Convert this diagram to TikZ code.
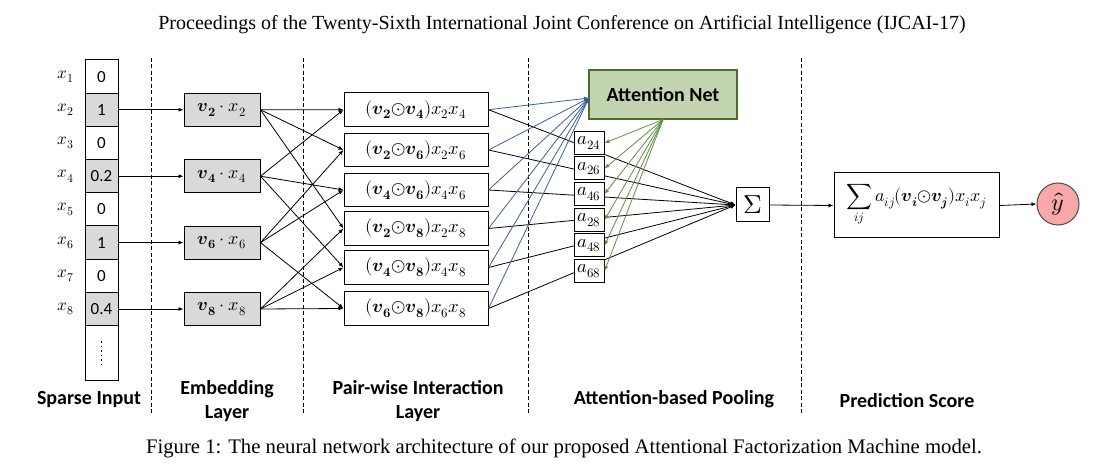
\documentclass[tikz,border=0pt]{standalone}
\usepackage{fontspec}
\usepackage{unicode-math}
\setmainfont{Liberation Serif}
\setmathfont{Latin Modern Math}
\newfontfamily\calib{Carlito}
\usetikzlibrary{arrows.meta}
\definecolor{boxgray}{HTML}{D9D9D9}
\definecolor{attfill}{HTML}{C3D5B0}
\definecolor{attdraw}{HTML}{4F6B2F}
\definecolor{blueline}{HTML}{3D5E9E}
\definecolor{greenline}{HTML}{5F8F3F}
\definecolor{yfill}{HTML}{F8A8A8}
\newcommand{\bv}[1]{\symbfit{v}_{\symbf{#1}}}
\newcommand{\od}{{\odot}}
\begin{document}
\begin{tikzpicture}[x=1pt,y=-1pt,
  cell/.style={draw, line width=1pt, minimum width=33pt, minimum height=33.2pt, inner sep=0pt, font=\calib\fontsize{17}{17}\selectfont},
  grayc/.style={cell, fill=boxgray},
  emb/.style={draw, line width=1pt, fill=boxgray, minimum width=76pt, minimum height=33pt, inner sep=0pt, font=\fontsize{18}{18}\selectfont},
  pair/.style={draw, line width=1pt, minimum width=144pt, minimum height=33.5pt, inner sep=0pt, font=\fontsize{18.5}{18.5}\selectfont},
  abox/.style={draw, line width=1pt, fill=white, minimum width=30pt, minimum height=23pt, inner sep=0pt, font=\fontsize{18.5}{18.5}\selectfont},
  xlab/.style={font=\fontsize{17}{17}\selectfont},
  conn/.style={line width=0.8pt, -{Latex[length=5pt,width=4pt]}},
  bconn/.style={conn, draw=blueline},
  gconn/.style={conn, draw=greenline},
  sep/.style={line width=0.7pt, dash pattern=on 4pt off 2.5pt},
  lbl/.style={font=\calib\bfseries\fontsize{20}{24}\selectfont, align=center}
]
\useasboundingbox (0,0) rectangle (1101,473);
% separators
\foreach \xx in {151,303,528,801} \draw[sep] (\xx,58) -- (\xx,415);
% input column
\node[cell]  (in1) at (101.5,76.6)  {0};
\node[grayc] (in2) at (101.5,109.8) {1};
\node[cell]  (in3) at (101.5,143.0) {0};
\node[grayc] (in4) at (101.5,176.2) {0.2};
\node[cell]  (in5) at (101.5,209.4) {0};
\node[grayc] (in6) at (101.5,242.6) {1};
\node[cell]  (in7) at (101.5,275.8) {0};
\node[grayc] (in8) at (101.5,309.0) {0.4};
\node[cell, minimum height=55pt] (indots) at (101.5,353.1) {};
\draw[line width=1.6pt, dash pattern=on 1.6pt off 2.9pt] ([yshift=12pt]indots.center) -- ([yshift=-13pt]indots.center);
\foreach \i/\yy in {1/76.6,2/109.8,3/143.0,4/176.2,5/209.4,6/242.6,7/275.8,8/309.0}
  \node[xlab] (xl\i) at (66,\yy) {$x_{\i}$};
% embedding
\node[emb] (e2) at (222,109.8) {$\bv{2}\cdot x_2$};
\node[emb] (e4) at (222,176.2) {$\bv{4}\cdot x_4$};
\node[emb] (e6) at (222,242.6) {$\bv{6}\cdot x_6$};
\node[emb] (e8) at (222,309.0) {$\bv{8}\cdot x_8$};
\foreach \i in {2,4,6,8} \draw[conn] (in\i.east) -- (e\i.west);
% pairwise
\node[pair] (p24) at (416,109.7) {$(\bv{2}\od\bv{4})x_2x_4$};
\node[pair] (p26) at (416,150.0) {$(\bv{2}\od\bv{6})x_2x_6$};
\node[pair] (p46) at (416,190.0) {$(\bv{4}\od\bv{6})x_4x_6$};
\node[pair] (p28) at (416,228.5) {$(\bv{2}\od\bv{8})x_2x_8$};
\node[pair] (p48) at (416,267.5) {$(\bv{4}\od\bv{8})x_4x_8$};
\node[pair] (p68) at (416,308.5) {$(\bv{6}\od\bv{8})x_6x_8$};
\foreach \e/\p in {2/24,2/26,2/28,4/24,4/46,4/48,6/26,6/46,6/68,8/28,8/48,8/68}
  \draw[conn] (e\e.east) -- (p\p.west);
% attention net
\node[draw=attdraw, line width=1.2pt, fill=attfill, minimum width=148pt, minimum height=49pt, font=\calib\bfseries\fontsize{20}{20}\selectfont] (att) at (663,94.5) {Attention Net};
\coordinate (attin) at (589,98);
% sum
\node[draw, line width=1pt, minimum width=33pt, minimum height=34pt, inner sep=0pt, font=\fontsize{26}{26}\selectfont] (sig) at (752.5,205) {$\Sigma$};
\foreach \p in {24,26,46,28,48,68} {
  \draw[bconn] (p\p.east) -- (attin);
  \draw[conn] (p\p.east) -- (sig.west);
}
% attention weights
\node[abox] (a24) at (589,143.0) {$a_{24}$};
\node[abox] (a26) at (589,168.5) {$a_{26}$};
\node[abox] (a46) at (589,194.0) {$a_{46}$};
\node[abox] (a28) at (589,220.0) {$a_{28}$};
\node[abox] (a48) at (589,245.5) {$a_{48}$};
\node[abox] (a68) at (589,271.0) {$a_{68}$};
\foreach \p in {24,26,46,28,48,68} \draw[gconn] (att.south) -- (a\p.east);
% prediction
\node[draw, line width=1pt, minimum width=165pt, minimum height=65pt, inner sep=0pt, font=\fontsize{18}{18}\selectfont] (pred) at (916.5,205.5) {$\displaystyle\sum_{ij} a_{ij}(\symbfit{v}_{\symbfit{i}}\od\symbfit{v}_{\symbfit{j}})x_ix_j$};
\node[circle, draw=black!70, line width=1pt, fill=yfill, minimum size=42pt, inner sep=0pt, font=\fontsize{24}{24}\selectfont] (yhat) at (1058,204) {$\hat{y}$};
\draw[conn] (sig.east) -- (pred.west);
\draw[conn] (pred.east) -- (yhat.west);
% labels
\node[lbl] (l1) at (89,400) {Sparse Input};
\node[lbl] (l2) at (227,401) {Embedding\\Layer};
\node[lbl] (l3) at (418,401) {Pair-wise Interaction\\Layer};
\node[lbl] (l4) at (674,399) {Attention-based Pooling};
\node[lbl] (l5) at (907,401) {Prediction Score};
% title and caption
\node[font=\fontsize{20}{20}\selectfont] (title) at (562,25) {Proceedings of the Twenty-Sixth International Joint Conference on Artificial Intelligence (IJCAI-17)};
\node[font=\fontsize{20.7}{20.7}\selectfont] (caption) at (564,448) {Figure 1: The neural network architecture of our proposed Attentional Factorization Machine model.};
\end{tikzpicture}
\end{document}
